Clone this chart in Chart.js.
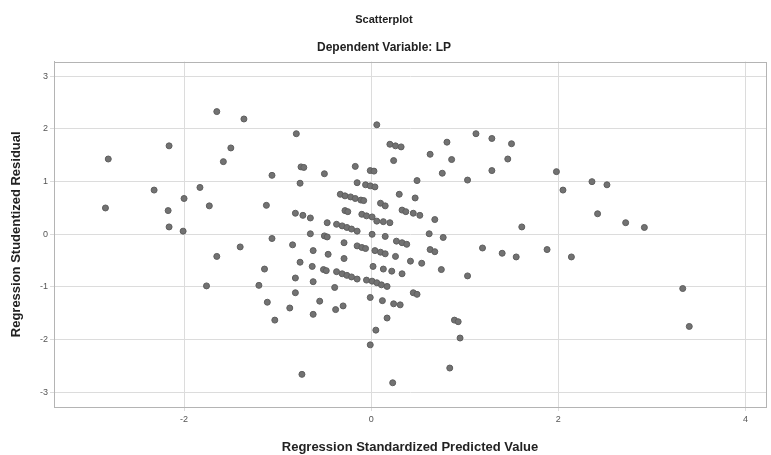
<!DOCTYPE html>
<html>
<head>
<meta charset="utf-8">
<script src="https://cdn.jsdelivr.net/npm/chart.js@4/dist/chart.umd.min.js"></script>
<style>
  html, body { margin: 0; padding: 0; background: #fff; }
  #wrap { width: 771px; height: 455px; }
</style>
</head>
<body>
<div id="wrap"><canvas id="grafico" width="771" height="455"></canvas></div>
<script>
// Valores (SPSS)
const predichos = [
  -1.65, -2.16, -1.50, -2.81, -1.58, -1.83, -2.32, -2.00, -1.73, -2.84, -2.17, -2.16, -2.01,
  -1.36, 0.06, -0.80, 0.20, 0.26, 0.32, 0.24, -0.75, -0.72, -0.17, -0.01, 0.03, -1.06, -0.50, -0.76, -0.15,
  -0.06, -0.01, 0.04, 0.30, -0.33, -0.28, -0.22, -0.17, -0.11, -0.08, -1.12, 0.10, 0.15, 0.33, 0.37, -0.28,
  -0.25, -0.81, -0.73, -0.65, -0.10, -0.05, 0.01, 0.06, 0.13, 0.20, -0.47, -0.37, -0.31, -0.26, -0.21, -0.15,
  -0.65, -0.50, -0.47, 0.01, 0.15, -1.06,
  1.12, 1.29, 1.50, 0.81, 0.63, 0.86, 1.46, 1.29, 0.76, 1.98, 1.03, 0.49, 2.05, 0.47, 0.45, 0.52, 0.68, 1.61, 0.62, 0.77,
  2.36, 2.52, 2.42, 2.72, 2.92,
  -1.65, -1.76,
  0.27, 0.33, 0.38, -1.40, -0.84, -0.29, -0.15, -0.10, -0.06, -0.62, -0.46, -0.29, 0.04, 0.10, 0.15, 0.26, 0.42,
  -0.76, -0.63, -0.51, -0.48, -0.37, -0.31, -0.26, -0.21, -0.15, 0.02, 0.13, 0.22, 0.33, -1.14, -0.81, -0.62,
  -0.05, 0.01, 0.06, 0.11, 0.17, -1.20, -0.39, -0.81, -0.01, 0.12, 0.24, -1.11, -0.55, -0.87, -0.30, -0.38,
  -0.62, 0.17, -1.03, 0.05, -0.01, -0.74, 0.23,
  0.63, 0.68, 1.19, 1.40, 1.55, 1.88, 2.14, 0.54, 0.75, 1.03, 0.45, 0.49, 0.31, 0.89, 0.93, 0.95, 0.84,
  3.33, 3.40
];

const residuos = [
  2.33, 1.68, 1.64, 1.43, 1.38, 0.89, 0.84, 0.68, 0.54, 0.50, 0.45, 0.14, 0.06,
  2.19, 2.08, 1.91, 1.71, 1.68, 1.66, 1.40, 1.28, 1.27, 1.29, 1.21, 1.20, 1.12, 1.15, 0.97, 0.98,
  0.94, 0.92, 0.90, 0.76, 0.76, 0.73, 0.71, 0.68, 0.65, 0.64, 0.55, 0.59, 0.54, 0.46, 0.43, 0.45,
  0.43, 0.40, 0.36, 0.31, 0.38, 0.35, 0.33, 0.25, 0.24, 0.22, 0.22, 0.19, 0.16, 0.13, 0.10, 0.06,
  0.01, -0.03, -0.05, 0.00, -0.04, -0.08,
  1.91, 1.82, 1.72, 1.75, 1.52, 1.42, 1.43, 1.21, 1.16, 1.19, 1.03, 1.02, 0.84, 0.69, 0.40, 0.36, 0.28, 0.14, 0.01, -0.06,
  1.00, 0.94, 0.39, 0.22, 0.13,
  -0.42, -0.98,
  -0.13, -0.16, -0.19, -0.24, -0.20, -0.16, -0.22, -0.25, -0.27, -0.31, -0.38, -0.46, -0.31, -0.34, -0.37, -0.42, -0.51,
  -0.53, -0.61, -0.67, -0.69, -0.71, -0.75, -0.78, -0.81, -0.85, -0.61, -0.66, -0.70, -0.75, -0.66, -0.83, -0.90,
  -0.87, -0.89, -0.92, -0.96, -0.99, -0.97, -1.01, -1.11, -1.20, -1.26, -1.32, -1.29, -1.27, -1.40, -1.36, -1.43,
  -1.52, -1.59, -1.63, -1.82, -2.10, -2.66, -2.82,
  -0.29, -0.33, -0.26, -0.36, -0.43, -0.29, -0.43, -0.55, -0.67, -0.79, -1.11, -1.14, -1.34, -1.63, -1.66, -1.97, -2.54,
  -1.03, -1.75
];

const ticksX = [-2, 0, 2, 4];
const ticksY = [-3, -2, -1, 0, 1, 2, 3];

const FUENTE = "'Liberation Sans', Arial, sans-serif";

// marco alrededor del área de trazado
const marco = {
  id: 'marco',
  afterDraw(chart) {
    const a = chart.chartArea;
    const ctx = chart.ctx;
    ctx.save();
    ctx.strokeStyle = '#b4b4b4';
    ctx.lineWidth = 1;
    ctx.strokeRect(Math.round(a.left) + 0.5, Math.round(a.top) + 0.5,
      Math.round(a.right - a.left), Math.round(a.bottom - a.top));
    ctx.restore();
  }
};

new Chart(document.getElementById('grafico').getContext('2d'), {
  type: 'scatter',
  data: {
    datasets: [{
      data: predichos.map((x, i) => ({ x: x, y: residuos[i] })),
      backgroundColor: '#727272',
      borderColor: '#5e5e5e',
      borderWidth: 1,
      pointRadius: 3
    }]
  },
  options: {
    responsive: false,
    animation: false,
    devicePixelRatio: 1,
    layout: { padding: { left: 0, right: 3, top: 0, bottom: 0 } },
    plugins: {
      legend: { display: false },
      tooltip: { enabled: false },
      title: {
        display: true,
        text: 'Scatterplot',
        color: '#222',
        font: { family: FUENTE, size: 11, weight: 'bold' },
        padding: { top: 13, bottom: 5 }
      },
      subtitle: {
        display: true,
        text: 'Dependent Variable: LP',
        color: '#222',
        font: { family: FUENTE, size: 12, weight: 'bold' },
        padding: { top: 9, bottom: 7 }
      }
    },
    scales: {
      x: {
        type: 'linear',
        min: -3.39,
        max: 4.22,
        afterBuildTicks: (s) => { s.ticks = ticksX.map(v => ({ value: v })); },
        afterFit: (s) => { s.height = 48; },
        grid: { color: '#dcdcdc', tickLength: 4, drawTicks: true },
        border: { color: '#b4b4b4' },
        ticks: { color: '#555', font: { family: FUENTE, size: 9 }, padding: 3 },
        title: {
          display: true,
          text: 'Regression Standardized Predicted Value',
          color: '#222',
          font: { family: FUENTE, size: 13, weight: 'bold' },
          padding: { top: 0, bottom: 0 }
        }
      },
      y: {
        type: 'linear',
        min: -3.28,
        max: 3.28,
        afterBuildTicks: (s) => { s.ticks = ticksY.map(v => ({ value: v })); },
        afterFit: (s) => { s.width = 54; },
        grid: { color: '#dcdcdc', tickLength: 4, drawTicks: true },
        border: { color: '#b4b4b4' },
        ticks: { color: '#555', font: { family: FUENTE, size: 9 }, padding: 2 },
        title: {
          display: true,
          text: 'Regression Studentized Residual',
          color: '#222',
          font: { family: FUENTE, size: 13, weight: 'bold' },
          padding: { top: 9, bottom: 0 }
        }
      }
    }
  },
  plugins: [marco]
});
</script>
</body>
</html>
